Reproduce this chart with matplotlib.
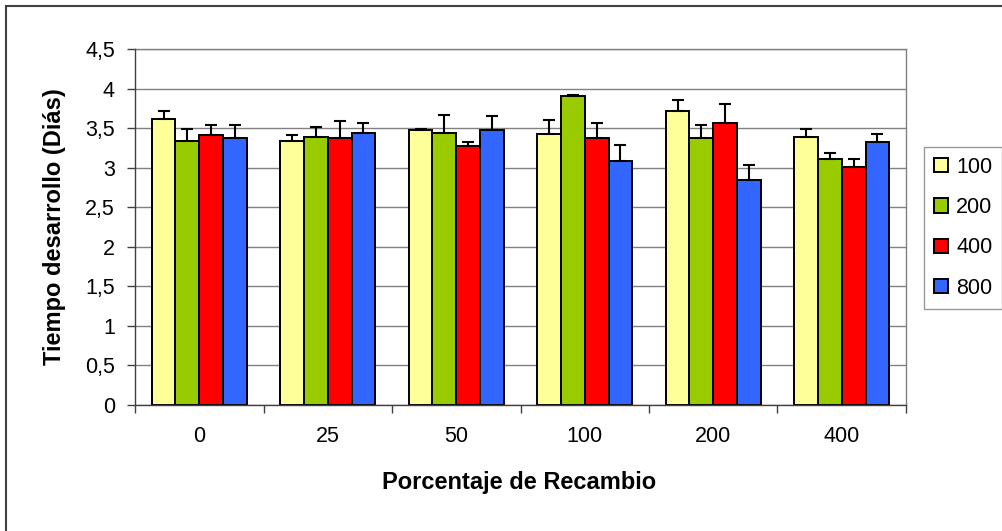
import numpy as np
import matplotlib
matplotlib.use("Agg")
import matplotlib.pyplot as plt
from matplotlib.patches import Rectangle

plt.rcParams['font.family'] = ['Liberation Sans', 'DejaVu Sans']

# Datos
categorias = ["0", "25", "50", "100", "200", "400"]
series = ["100", "200", "400", "800"]
colores = ["#FFFF99", "#99CC00", "#FF0000", "#3366FF"]

t100 = [3.62, 3.34, 3.47, 3.42, 3.72, 3.39]
t200 = [3.34, 3.39, 3.44, 3.90, 3.37, 3.11]
t400 = [3.41, 3.37, 3.27, 3.37, 3.57, 3.01]
t800 = [3.37, 3.44, 3.47, 3.09, 2.84, 3.32]

e100 = [0.10, 0.07, 0.02, 0.18, 0.13, 0.10]
e200 = [0.15, 0.12, 0.23, 0.02, 0.17, 0.08]
e400 = [0.13, 0.22, 0.05, 0.20, 0.23, 0.10]
e800 = [0.17, 0.13, 0.18, 0.20, 0.20, 0.10]

valores = [t100, t200, t400, t800]
errores = [e100, e200, e400, e800]

yticks = [0, 0.5, 1, 1.5, 2, 2.5, 3, 3.5, 4, 4.5]
ytick_labels = [("%g" % v).replace(".", ",") for v in yticks]

W, H = 1003, 531
fig = plt.figure(figsize=(W / 100, H / 100), dpi=100)
ax = fig.add_axes([135 / W, 1 - 405 / H, 771 / W, 356 / H])

x = np.arange(len(categorias))
ancho = 0.185
for i, (serie, vals, errs, col) in enumerate(zip(series, valores, errores, colores)):
    ax.bar(x + (i - 1.5) * ancho, vals, ancho, color=col, edgecolor="black",
           linewidth=1.4, label=serie, zorder=3,
           yerr=(np.zeros(len(errs)), errs),
           error_kw=dict(ecolor="black", elinewidth=1.5, capsize=4.3,
                         capthick=1.5, zorder=4))

ax.set_xlim(-0.5, len(categorias) - 0.5)
ax.set_ylim(0, 4.5)
ax.set_yticks(yticks)
ax.set_yticklabels(ytick_labels)
ax.set_xticks(x)
ax.set_xticklabels(categorias)
ax.set_xticks(np.arange(len(categorias) + 1) - 0.5, minor=True)

ax.tick_params(axis="x", which="major", length=0, pad=15, labelsize=15.5)
ax.tick_params(axis="x", which="minor", length=5.5, width=1, color="#404040",
               direction="out")
ax.tick_params(axis="y", length=5.5, width=1, color="#404040",
               direction="out", pad=9, labelsize=15.5)

ax.yaxis.grid(True, color="#808080", linewidth=1)
ax.set_axisbelow(True)
for lado in ["left", "bottom"]:
    ax.spines[lado].set_color("#404040")
    ax.spines[lado].set_linewidth(1)
for lado in ["top", "right"]:
    ax.spines[lado].set_color("#808080")
    ax.spines[lado].set_linewidth(1)
ax.spines["left"].set_zorder(5)
ax.spines["bottom"].set_zorder(5)

fig.text(54.5 / W, 1 - 227 / H, "Tiempo desarrollo (Diás)", rotation=90,
         ha="center", va="center", fontsize=17, fontweight="bold")
fig.text(519 / W, 1 - 483 / H, "Porcentaje de Recambio",
         ha="center", va="center", fontsize=17, fontweight="bold")

leg = fig.legend(loc="upper left", bbox_to_anchor=(924 / W, 1 - 147 / H),
                 fontsize=15.5, frameon=True, fancybox=False, shadow=False,
                 borderaxespad=0, borderpad=0.45, handlelength=0.65,
                 handleheight=0.65, handletextpad=0.4, labelspacing=0.9)
leg.get_frame().set_edgecolor("#808080")
leg.get_frame().set_linewidth(1)

# marco exterior del grafico
fig.patches.append(Rectangle((6.5 / W, -0.1), 1.2, 1.1 - 5.5 / H,
                             transform=fig.transFigure, fill=False,
                             edgecolor="#404040", linewidth=1.5))

fig.savefig("out.png", dpi=100, facecolor="white")
